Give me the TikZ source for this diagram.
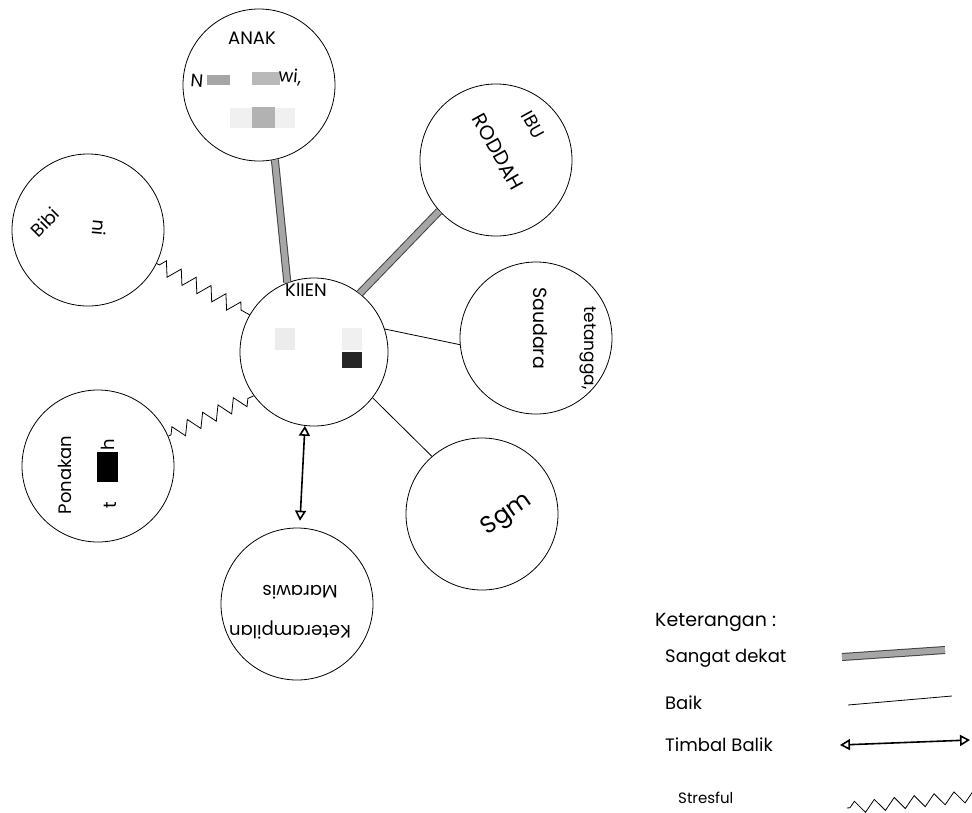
\documentclass[tikz,border=0pt]{standalone}
\usepackage{fontspec}
\setmainfont{Poppins}
\usetikzlibrary{shapes,arrows.meta,positioning,decorations.pathmorphing}
\tikzstyle{orang} = [circle, draw, thick, minimum size=152pt, inner sep=0pt]
\tikzstyle{tulisan} = [font=\fontsize{18}{20}\selectfont, inner sep=0pt]
\tikzstyle{dekat} = [draw=black!75, double=gray!70, double distance=6pt, line width=1pt]
\tikzstyle{baik} = [thick]
\tikzstyle{timbal} = [line width=1.6pt, {Triangle[open,length=10pt,width=11pt]}-{Triangle[open,length=10pt,width=11pt]}]
\tikzstyle{stres} = [thick, decorate, decoration={zigzag, segment length=17pt, amplitude=7pt, pre length=3pt, post length=3pt}]

\begin{document}
\begin{tikzpicture}[x=1pt, y=-1pt, >=stealth]
            \useasboundingbox (0,0) rectangle (972,812);
            % lingkaran
            \node[orang, minimum size=148pt] (klien) at (314,352) {};
            \node[orang] (anak) at (259,85) {};
            \node[orang] (ibu) at (496,160) {};
            \node[orang] (bibi) at (88,230) {};
            \node[orang] (tetangga) at (536,338) {};
            \node[orang] (ponakan) at (98,466) {};
            \node[orang] (terampil) at (297,604) {};
            \node[orang] (sgm) at (482,514) {};

            % bagian yang disamarkan
            \fill[gray!70] (207,75) rectangle (230,85);
            \fill[gray!55] (252,72) rectangle (280,85);
            \fill[gray!12] (230,108) rectangle (252,128);
            \fill[gray!60] (252,107) rectangle (275,128);
            \fill[gray!12] (275,108) rectangle (295,128);
            \fill[gray!15] (275,328) rectangle (295,350);
            \fill[gray!12] (342,328) rectangle (362,350);
            \fill[black!85] (342,352) rectangle (362,368);
            \fill[black] (97,452) rectangle (118,482);

            % tulisan
            \node[tulisan] (lanak) at (252,38) {ANAK};
            \node[tulisan, rotate=-5] (lanak2) at (197,81) {N};
            \node[tulisan, rotate=-5] (lanak3) at (290,77) {wi,};
            \node[tulisan, rotate=-61] (libu) at (533,125) {IBU};
            \node[tulisan, rotate=-61, font=\fontsize{20}{22}\selectfont] (lroddah) at (498,152) {RODDAH};
            \node[tulisan, rotate=45] (lbibi) at (45,222) {Bibi};
            \node[tulisan, rotate=-95] (lbibi2) at (100,228) {ni};
            \node[tulisan] (lklien) at (306,290) {KlIEN};
            \node[tulisan, rotate=-90, font=\fontsize{17}{19}\selectfont] (ltetangga) at (588,348) {tetangga,};
            \node[tulisan, rotate=-90, font=\fontsize{19}{21}\selectfont] (lsaudara) at (540,328) {Saudara};
            \node[tulisan, rotate=90] (lponakan) at (65,475) {Ponakan};
            \node[tulisan, rotate=90] (lponakan2) at (108,445) {h};
            \node[tulisan, rotate=90] (lponakan3) at (110,505) {t};
            \node[tulisan, rotate=180] (lmarawis) at (300,592) {Marawis};
            \node[tulisan, rotate=180] (lterampil) at (290,630) {Keterampilan};
            \node[tulisan, rotate=35, font=\fontsize{24}{26}\selectfont] (lsgm) at (507,515) {Sgm};

            % hubungan
            \draw[dekat] (klien.111) -- (anak.282);
            \draw[dekat] (klien.52) -- (ibu.222);
            \draw[baik] (klien.18) -- (tetangga.185);
            \draw[baik] (klien.-38) -- (sgm.131);
            \draw[timbal, shorten >=7pt] (klien.-97) -- (terampil.88);
            \draw[stres] (bibi.-26) -- (klien.150);
            \draw[stres] (ponakan.23) -- (klien.216);

            % keterangan
            \node[tulisan, anchor=west, font=\fontsize{19}{21}\selectfont] (ket) at (655,622) {Keterangan :};
            \node[tulisan, anchor=west] (ksangat) at (665,658) {Sangat dekat};
            \node[tulisan, anchor=west] (kbaik) at (665,703) {Baik};
            \node[tulisan, anchor=west] (ktimbal) at (665,745) {Timbal Balik};
            \node[tulisan, anchor=west, font=\fontsize{15}{17}\selectfont] (kstres) at (678,798) {Stresful};
            \coordinate (sd1) at (842,657);
            \coordinate (sd2) at (945,650);
            \coordinate (bk1) at (848,705);
            \coordinate (bk2) at (952,696);
            \coordinate (tb1) at (840,745);
            \coordinate (tb2) at (970,740);
            \coordinate (st1) at (847,808);
            \coordinate (st2) at (985,795);
            \draw[dekat] (sd1) -- (sd2);
            \draw[baik] (bk1) -- (bk2);
            \draw[timbal] (tb1) -- (tb2);
            \draw[stres, decoration={segment length=20pt, amplitude=6pt}] (st1) -- (st2);
        \end{tikzpicture}
\end{document}
